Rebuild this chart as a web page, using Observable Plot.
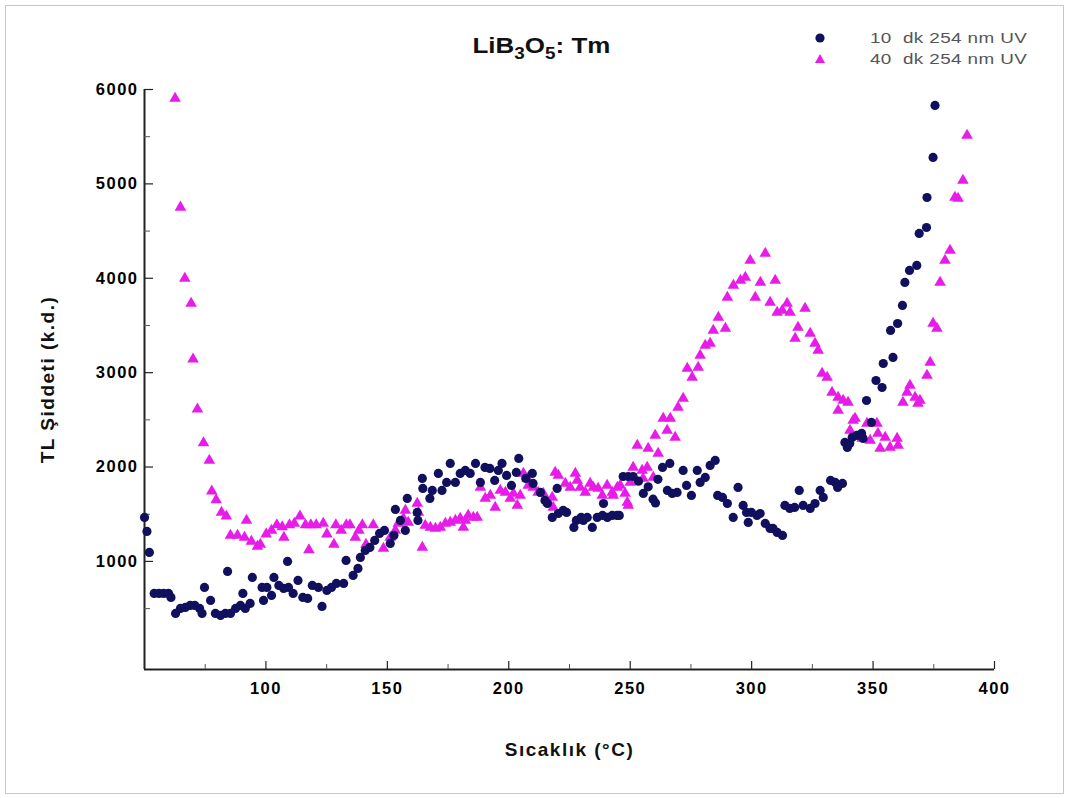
<!DOCTYPE html>
<html>
<head>
<meta charset="utf-8">
<script src="https://cdn.jsdelivr.net/npm/d3@7"></script>
<script src="https://cdn.jsdelivr.net/npm/@observablehq/plot@0.6"></script>
<style>
  html, body { margin: 0; padding: 0; background: #fff; }
  #wrap { position: relative; width: 1068px; height: 798px; overflow: hidden; font-family: "Liberation Sans", Arial, sans-serif; }
  #frame { position: absolute; left: 5px; top: 5px; right: 4px; bottom: 4px; border: 1px solid #c8c8c8; pointer-events: none; }
  #title { position: absolute; top: 33px; left: 0; width: 1082px; text-align: center; }
  #title span { display: inline-block; transform: scaleX(1.18); font-weight: bold; font-size: 22px; color: #111; }
  #title sub { font-size: 16px; vertical-align: -6px; line-height: 0; }
  .leg { position: absolute; left: 808px; font-size: 14.5px; color: #555; display: flex; align-items: center; }
  .leg svg { width: 24px; height: 14px; margin-right: 38px; }
  .leg span { display: inline-block; transform: scaleX(1.3); transform-origin: left center; letter-spacing: 0.3px; }
</style>
</head>
<body>
<div id="wrap">
  <div id="chart"></div>
  <div id="title"><span>LiB<sub>3</sub>O<sub>5</sub>: Tm</span></div>
  <div class="leg" style="top:30px"><svg viewBox="0 0 24 14"><circle cx="12" cy="7" r="4.6" fill="#10105e"></circle></svg><span>10&nbsp; dk 254 nm UV</span></div>
  <div class="leg" style="top:51px"><svg viewBox="0 0 24 14"><path d="M12,2 L17,11 L7,11 Z" fill="#e81ce8"></path></svg><span>40&nbsp; dk 254 nm UV</span></div>
  <div id="frame"></div>
</div>
<script>
// ---- Data ----
const seriesNames = ["10  dk 254 nm UV", "40  dk 254 nm UV"];

const temp10 = [50,51,52,54,56,57.9,59.9,60.9,62.8,64.8,66.8,68.8,70.7,72.7,73.7,74.7,77.2,79.2,81.3,83.3,84.2,85.4,87.5,89.5,90.5,91.5,93.5,94.4,98.4,99,100.4,102.3,103.3,105.3,107.3,108.9,109.3,111.2,113.2,115.2,117.2,119.1,121.6,123.1,125.1,127,129,132,133,135.9,137.9,138.9,140.9,142.8,144.8,146.8,148.8,
151.2,152.7,153.3,155.4,157.4,158.2,162.3,162.6,164.4,164.6,167.5,168.5,171,172.5,174.4,175.9,178,180,182.1,184.1,186.3,188.3,190.2,192.2,194.2,195.7,197.2,199.1,201.1,203.1,204.1,207,209.7,210,213,214.9,215.9,217.9,219.9,220.4,222.4,223.8,226.8,227.8,229.8,230.7,232.3,234.4,236.4,238.6,239,240.6,242.6,244.6,245.5,247.1,249.2,251.2,253.4,255.4,257.4,259.4,260.4,261.4,
263.3,265.3,266.3,267.3,269.3,271.8,273.2,275.2,277.6,278.8,280.9,282.9,285,286,288,290,292.4,294.4,296.5,297.9,298.6,299.9,302.2,303.5,305.6,307.6,308.8,310.5,312.7,313.7,315.7,317.7,319.6,321.2,324.1,326.1,328.2,329.5,332.5,334.4,335.4,337.4,338.4,339.4,340.4,341.4,343.3,345.3,345.9,347.3,349.3,351.2,353.7,354.2,357.2,358.2,360.1,362.1,363.1,365,368,369,372,372.2,374.7,375.5];
const tl10 = [1466,1318,1095,661,661,661,661,619,449,502,513,534,534,502,449,725,587,449,428,449,894,449,502,534,661,502,555,831,725,587,725,640,831,746,714,1000,725,661,799,619,608,746,725,523,693,725,767,767,1011,852,926,1042,1117,1148,1222,1297,1328,
1191,1275,1551,1434,1328,1667,1519,1434,1879,1773,1667,1752,1932,1752,1837,2038,1837,1932,1964,1932,2038,1837,1996,1985,1858,1964,2038,1911,1805,1943,2091,1879,1932,1826,1731,1646,1614,1466,1773,1508,1540,1519,1360,1434,1466,1434,1466,1360,1466,1487,1614,1466,1487,1487,1487,1900,1900,1900,1850,1720,1790,1660,1620,1870,
1996,1752,2038,1720,1731,1964,1805,1699,1964,1837,1890,2017,2070,1699,1678,1614,1466,1784,1593,1519,1413,1519,1487,1508,1403,1350,1350,1307,1275,1593,1562,1572,1752,1593,1562,1614,1752,1678,1858,1837,1784,1826,2261,2208,2250,2314,2335,2356,2303,2705,2473,2917,2843,3097,3447,3161,3521,3712,3956,4083,4136,4475,4538,4856,5280,5831];

const temp40 = [62.6,64.8,66.6,69.2,70,71.8,74.3,76.7,77.7,79.5,81.7,83.7,85.4,88.3,91.2,92,94,96.5,97.7,100.1,102.3,104.5,106.7,107.4,109.7,111.7,114,116.3,117.7,118.5,120.7,123.6,125.1,128,128.8,131,133.1,134.6,136.8,138.3,139.7,141.2,144.2,
148.4,151.2,153.3,154.5,156.6,157.4,158.6,162.3,162.8,164.4,165.6,167.7,169.8,171.8,173.9,175.9,178,180,181.3,182.1,183.3,185.4,187,188.3,190.3,192.4,194.4,196.5,198.6,200.6,201.9,203.5,204.7,206,207.6,208,210.1,212.1,214.2,216.3,217.9,218.3,219.1,220.4,223.3,225.3,227.4,228.2,229.4,231.5,233.5,234.8,236.8,238.5,240.5,242.6,243,244.7,245.9,247.9,248.8,249.2,250,251.2,252.9,254.9,255.3,257,257.4,259.5,260.3,261.5,
263.6,265.2,266.5,268.5,269.7,271.8,273.5,275.5,278,278.8,280.9,282.9,284.2,286.3,289.2,290,292.5,295.4,297.4,299.4,301.5,303.6,305.6,307.6,309.7,310.5,312.6,314.6,315.8,317.9,319.1,322,324.1,326.1,327.4,329,331.1,333.1,335.6,335.6,337.7,339.7,340.5,341.8,342.6,345.5,347.5,348.8,351.6,352,352.9,355,357,359.9,360.3,362.3,364,365.2,367.3,368.5,369.3,372.2,373.5,374.7,376.3,377.6,379.6,381.7,383.7,385,387,388.7];
const tl40 = [5905,4752,3998,3733,3144,2614,2255,2070,1745,1651,1519,1480,1275,1275,1254,1434,1212,1159,1180,1290,1328,1386,1366,1254,1386,1403,1480,1386,1121,1386,1386,1403,1290,1180,1386,1328,1386,1386,1254,1328,1386,1180,1386,
1138,1254,1328,1403,1455,1540,1413,1614,1519,1148,1381,1360,1350,1360,1403,1413,1434,1455,1360,1434,1487,1466,1466,1784,1667,1699,1572,1752,1731,1667,1720,1593,1699,1932,1879,1805,1784,1731,1720,1625,1678,1572,1943,1911,1826,1784,1932,1858,1784,1731,1826,1784,1773,1699,1805,1731,1699,1784,1805,1720,1625,1593,1837,1996,2229,1964,1879,1996,2197,1890,2335,2144,
2515,2388,2515,2314,2631,2727,3044,2949,3055,3182,3288,3309,3447,3585,3468,3797,3924,3977,4008,4189,3797,3956,4263,3744,3977,3638,3659,3733,3638,3362,3479,3680,3415,3309,3235,2992,2949,2790,2737,2600,2705,2684,2388,2494,2515,2303,2462,2282,2462,2356,2197,2314,2208,2303,2229,2684,2790,2864,2737,2674,2705,2970,3108,3521,3468,3956,4189,4294,4856,4845,5036,5513];

const xTickLabels = [100, 150, 200, 250, 300, 350, 400];
const xMinorTicks = [75, 125, 175, 225, 275, 325, 375];
const yTickLabels = [1000, 2000, 3000, 4000, 5000, 6000];
const yMinorTicks = [500, 1500, 2500, 3500, 4500, 5500];
const xTitle = "Sıcaklık (°C)";
const yTitle = "TL Şiddeti (k.d.)";

const colors = ["#10105e", "#e81ce8"];

const s10 = temp10.map((t, i) => ({t, v: tl10[i]}));
const s40 = temp40.map((t, i) => ({t, v: tl40[i]}));

const W = 1068, H = 798;
const mL = 144, mR = 74, mT = 89, mB = 129;
const innerW = W - mL - mR, innerH = H - mT - mB;
const xDom = [50, 400], yDom = [-145, 6000];
const font = "'Liberation Sans', Arial, sans-serif";

const chart = Plot.plot({
  width: W, height: H,
  marginLeft: mL, marginRight: mR, marginTop: mT, marginBottom: mB,
  style: {background: "transparent", fontFamily: font, color: "#000", overflow: "visible"},
  x: {domain: xDom},
  y: {domain: yDom},
  marks: [
    // axis lines
    Plot.ruleY([yDom[0]], {x1: xDom[0], x2: xDom[1], stroke: "#222", strokeWidth: 2}),
    Plot.ruleX([xDom[0]], {y1: yDom[0], y2: 6000, stroke: "#222", strokeWidth: 2}),
    // inward ticks
    Plot.tickX(xTickLabels, {x: d => d, insetTop: innerH - 8, stroke: "#222", strokeWidth: 1.2}),
    Plot.tickX(xMinorTicks, {x: d => d, insetTop: innerH - 5, stroke: "#555", strokeWidth: 1}),
    Plot.tickY(yTickLabels, {y: d => d, insetRight: innerW - 9, stroke: "#222", strokeWidth: 1.2}),
    Plot.tickY(yMinorTicks, {y: d => d, insetRight: innerW - 6, stroke: "#555", strokeWidth: 1}),
    Plot.axisX({ticks: xTickLabels, tickSize: 0, tickPadding: 13, fontSize: 16.5, fontWeight: "bold", label: null}),
    Plot.axisY({ticks: yTickLabels, tickSize: 0, tickPadding: 6, fontSize: 16.5, fontWeight: "bold", tickFormat: d => String(d), label: null}),
    // axis titles
    Plot.text([xTitle], {frameAnchor: "bottom", dy: 80, text: d => d, textAnchor: "middle", lineAnchor: "middle", fontSize: 19, fontWeight: "bold", fill: "#111"}),
    Plot.text([yTitle], {frameAnchor: "left", dx: -97, rotate: -90, text: d => d, textAnchor: "middle", lineAnchor: "middle", fontSize: 19, fontWeight: "bold", fill: "#111"}),
    // data
    Plot.dot(s40, {x: "t", y: "v", symbol: "triangle", r: 4.3, fill: colors[1], stroke: "none"}),
    Plot.dot(s10, {x: "t", y: "v", symbol: "circle", r: 4.6, fill: colors[0], stroke: "none"})
  ]
});
d3.select(chart).selectAll("text").style("letter-spacing", "1.5px");
document.getElementById("chart").appendChild(chart);
</script>
</body>
</html>
